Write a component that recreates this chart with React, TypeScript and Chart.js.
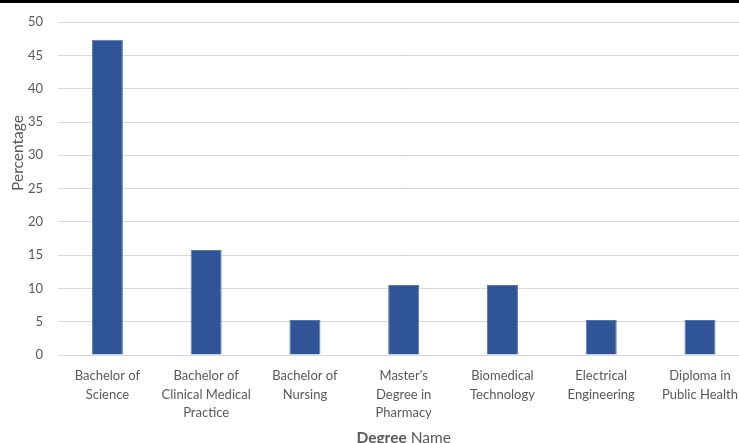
import React, { useEffect, useRef } from "react";
import { Chart, registerables } from "chart.js";

Chart.register(...registerables);

const categories: string[][] = [
  ["Bachelor of", "Science"],
  ["Bachelor of", "Clinical Medical", "Practice"],
  ["Bachelor of", "Nursing"],
  ["Master's", "Degree in", "Pharmacy"],
  ["Biomedical", "Technology"],
  ["Electrical", "Engineering"],
  ["Diploma in", "Public Health"],
];
const percentages: number[] = [47.37, 15.79, 5.26, 10.53, 10.53, 5.26, 5.26];
const yTitle = "Percentage";
const xTitleBold = "Degree";
const xTitleRest = " Name";

const FONT = "Lato, 'Open Sans', sans-serif";
const GREY = "#595959";

const titlesPlugin = {
  id: "customTitles",
  afterDraw(chart: any) {
    const ctx = chart.ctx as CanvasRenderingContext2D;
    const area = chart.chartArea;
    ctx.save();
    ctx.fillStyle = GREY;
    ctx.font = `15.5px ${FONT}`;
    ctx.textAlign = "center";
    ctx.textBaseline = "middle";
    ctx.translate(18, 153);
    ctx.rotate(-Math.PI / 2);
    ctx.fillText(yTitle, 0, 0);
    ctx.restore();

    ctx.save();
    ctx.fillStyle = GREY;
    ctx.textBaseline = "middle";
    ctx.font = `bold 15.5px ${FONT}`;
    const wb = ctx.measureText(xTitleBold).width;
    ctx.font = `15.5px ${FONT}`;
    const wr = ctx.measureText(xTitleRest).width;
    const cx = (area.left + area.right) / 2;
    const start = cx - (wb + wr) / 2;
    ctx.textAlign = "left";
    ctx.font = `bold 15.5px ${FONT}`;
    ctx.fillText(xTitleBold, start, 438);
    ctx.font = `15.5px ${FONT}`;
    ctx.fillText(xTitleRest, start + wb, 438);
    ctx.restore();
  },
};

export default function App() {
  const ref = useRef<HTMLCanvasElement | null>(null);
  useEffect(() => {
    if (!ref.current) return;
    const chart = new Chart(ref.current, {
      type: "bar",
      data: {
        labels: categories,
        datasets: [
          {
            data: percentages,
            backgroundColor: "#2F5597",
            borderColor: "#5577B5",
            borderWidth: 1,
            barPercentage: 0.314,
            categoryPercentage: 1,
          },
        ],
      },
      options: {
        responsive: false,
        animation: false,
        devicePixelRatio: 1,
        layout: { padding: { top: 14, left: 0, right: 0, bottom: 0 } },
        plugins: { legend: { display: false }, tooltip: { enabled: false }, title: { display: false } },
        scales: {
          x: {
            grid: { display: false, drawTicks: false },
            border: { display: false },
            ticks: {
              autoSkip: false,
              maxRotation: 0,
              minRotation: 0,
              padding: 12,
              color: GREY,
              font: { family: FONT, size: 13, lineHeight: 1.42 },
            },
            afterFit: (s: any) => {
              s.height = 88;
            },
          },
          y: {
            min: 0,
            max: 50,
            ticks: {
              stepSize: 5,
              padding: 15,
              color: GREY,
              font: { family: FONT, size: 13, lineHeight: 1.1 },
            },
            grid: { color: "#d9d9d9", lineWidth: 1, drawTicks: false },
            border: { display: false },
            afterFit: (s: any) => {
              s.width = 58;
            },
          },
        },
      },
      plugins: [titlesPlugin],
    });
    return () => chart.destroy();
  }, []);

  return (
    <div
      style={{
        position: "fixed",
        left: 0,
        top: 0,
        width: 739,
        height: 443,
        overflow: "hidden",
        background: "#fff",
      }}
    >
      <canvas ref={ref} width={750} height={443} style={{ position: "absolute", left: 0, top: 0 }} />
      <div style={{ position: "absolute", left: 0, top: 0, width: 739, height: 3, background: "#000" }} />
    </div>
  );
}
